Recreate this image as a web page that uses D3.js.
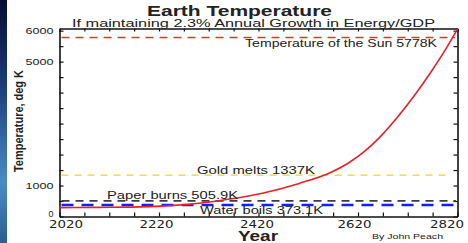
<!DOCTYPE html>
<html lang="en">
<head>
    <meta charset="UTF-8">
    <title>Earth Temperature</title>
    <script src="https://d3js.org/d3.v7.min.js"></script>
    <style>
        body { margin: 0; background: #fff; }
        text { font-family: "Liberation Sans", Arial, sans-serif; fill: #222; }
    </style>
</head>
<body>
<script>
    // curve
    var years = [2020, 2100, 2200, 2250, 2300, 2340, 2400, 2430, 2500, 2565, 2600, 2630, 2665, 2700, 2733, 2766, 2800, 2820];
    var temps = [288, 295, 320, 360, 430, 510, 660, 760, 1060, 1420, 1720, 2060, 2580, 3220, 3900, 4650, 5500, 6050];

    var refNames = ["Temperature of the Sun 5778K", "Gold melts 1337K", "Paper burns 505.9K", "Water boils 373.1K"];
    var refTemps = [5778, 1337, 505.9, 373.1];

    var yLabelled = [0, 1000, 5000, 6000];
    var xLabelled = [2020, 2220, 2420, 2620, 2820];

    var width = 468, height = 243;
    var plotL = 59.5, plotR = 457.5, plotT = 28.5, plotB = 216.5;

    var svg = d3.select("body").append("svg")
        .attr("width", width)
        .attr("height", height);

    // blue slide strip on the left edge
    var grad = svg.append("defs").append("linearGradient")
        .attr("id", "strip").attr("x1", 0).attr("y1", 0).attr("x2", 0).attr("y2", 1);
    grad.append("stop").attr("offset", "0%").attr("stop-color", "#060d35");
    grad.append("stop").attr("offset", "35%").attr("stop-color", "#1c3c78");
    grad.append("stop").attr("offset", "75%").attr("stop-color", "#4b8cc4");
    grad.append("stop").attr("offset", "100%").attr("stop-color", "#2a5f8f");
    svg.append("rect").attr("x", 0).attr("y", 0).attr("width", 7).attr("height", height)
        .attr("fill", "url(#strip)");

    var x = d3.scaleLinear().domain([2020, 2820]).range([plotL, plotR]);
    var y = d3.scaleLinear().domain([0, 6070]).range([plotB, plotT]);

    var xTicks = d3.range(2020, 2821, 50);
    var yTicks = d3.range(0, 6001, 500);
    // labels in the picture sit a little off their ticks
    var xLabelShift = {2020: 6, 2220: -3, 2420: -2, 2620: -4, 2820: -11};

    function styleAxis(g) {
        g.select(".domain").attr("stroke", "#111").attr("stroke-width", 1.6);
        g.selectAll(".tick line").attr("stroke", "#111").attr("stroke-width", 1.2);
    }

    // bottom axis
    svg.append("g").attr("transform", "translate(0," + plotB + ")")
        .call(d3.axisBottom(x).tickValues(xTicks).tickSizeInner(-4).tickSizeOuter(0)
            .tickFormat(function(d) { return xLabelled.indexOf(d) >= 0 ? d : ""; }))
        .call(styleAxis)
        .call(function(g) {
            g.selectAll(".tick text")
                .attr("y", 11).attr("dy", 0)
                .attr("x", function(d) { return xLabelShift[d] || 0; })
                .style("font-family", "'DejaVu Sans', sans-serif")
                .attr("font-size", 10.5).attr("fill", "#333")
                .attr("textLength", function(d) { return xLabelled.indexOf(d) >= 0 ? 34 : null; })
                .attr("lengthAdjust", "spacingAndGlyphs");
        });

    // top axis
    svg.append("g").attr("transform", "translate(0," + plotT + ")")
        .call(d3.axisTop(x).tickValues(xTicks).tickSizeInner(-3).tickSizeOuter(0).tickFormat(""))
        .call(styleAxis);

    // left axis
    svg.append("g").attr("transform", "translate(" + plotL + ",0)")
        .call(d3.axisLeft(y).tickValues(yTicks).tickSizeInner(-4).tickSizeOuter(0)
            .tickFormat(function(d) { return yLabelled.indexOf(d) >= 0 ? d : ""; }))
        .call(styleAxis)
        .call(function(g) {
            g.selectAll(".tick text")
                .attr("x", -6)
                .attr("font-size", 9).attr("fill", "#333")
                .attr("textLength", function(d) { return d === 0 ? 5 : (yLabelled.indexOf(d) >= 0 ? 28 : null); })
                .attr("lengthAdjust", "spacingAndGlyphs");
            g.selectAll(".tick text").filter(function(d) { return d === 0; })
                .attr("y", -2.5);
        });

    // right axis
    svg.append("g").attr("transform", "translate(" + plotR + ",0)")
        .call(d3.axisRight(y).tickValues(yTicks).tickSizeInner(-4).tickSizeOuter(0).tickFormat(""))
        .call(styleAxis);

    // reference lines
    var refStyle = [
        {color: "#ff2a2a", dash: "8,6", w: 1.6, x2: 455, lx: 437, anchor: "end", dy: 9.5, len: 192},
        {color: "#f5d21e", dash: "7,6", w: 1.3, x2: 449, lx: 197, anchor: "start", dy: -1.5, len: 118},
        {color: "#3c3c3c", dash: "8,6", w: 1.6, x2: 456, lx: 107, anchor: "start", dy: -1.5, len: 131},
        {color: "#1020ff", dash: "12,8", w: 2.6, x2: 456, lx: 200, anchor: "start", dy: 9.5, len: 123}
    ];

    refTemps.forEach(function(t, i) {
        var s = refStyle[i];
        svg.append("line")
            .attr("x1", plotL + 2).attr("x2", s.x2)
            .attr("y1", y(t)).attr("y2", y(t))
            .attr("stroke", s.color).attr("stroke-width", s.w)
            .attr("stroke-dasharray", s.dash);
    });

    // temperature curve
    var line = d3.line()
        .x(function(d, i) { return x(years[i]); })
        .y(function(d) { return y(d); })
        .curve(d3.curveMonotoneX);
    svg.append("path")
        .attr("d", line(temps))
        .attr("fill", "none")
        .attr("stroke", "#e8202a")
        .attr("stroke-width", 1.6);

    refTemps.forEach(function(t, i) {
        var s = refStyle[i];
        svg.append("text")
            .attr("x", s.lx).attr("y", y(t) + s.dy)
            .attr("text-anchor", s.anchor)
            .attr("font-size", 10.5)
            .attr("textLength", s.len).attr("lengthAdjust", "spacingAndGlyphs")
            .text(refNames[i]);
    });

    // titles
    svg.append("text").attr("x", 147).attr("y", 15.5)
        .attr("font-size", 14).attr("font-weight", "bold").attr("fill", "#111")
        .attr("textLength", 185).attr("lengthAdjust", "spacingAndGlyphs")
        .text("Earth Temperature");
    svg.append("text").attr("x", 72).attr("y", 26.5)
        .attr("font-size", 11)
        .attr("textLength", 363).attr("lengthAdjust", "spacingAndGlyphs")
        .text("If maintaining 2.3% Annual Growth in Energy/GDP");

    svg.append("text").attr("x", 238).attr("y", 241)
        .attr("font-size", 14).attr("font-weight", "bold").attr("fill", "#111")
        .attr("textLength", 40).attr("lengthAdjust", "spacingAndGlyphs")
        .text("Year");

    svg.append("text").attr("x", 372).attr("y", 238.5)
        .attr("font-size", 8).attr("fill", "#333")
        .attr("textLength", 71).attr("lengthAdjust", "spacingAndGlyphs")
        .text("By John Peach");

    svg.append("text")
        .attr("transform", "translate(23,121) rotate(-90)")
        .attr("text-anchor", "middle")
        .attr("font-size", 13).attr("font-weight", "bold").attr("fill", "#111")
        .attr("textLength", 102).attr("lengthAdjust", "spacingAndGlyphs")
        .text("Temperature, deg K");
</script>
</body>
</html>
